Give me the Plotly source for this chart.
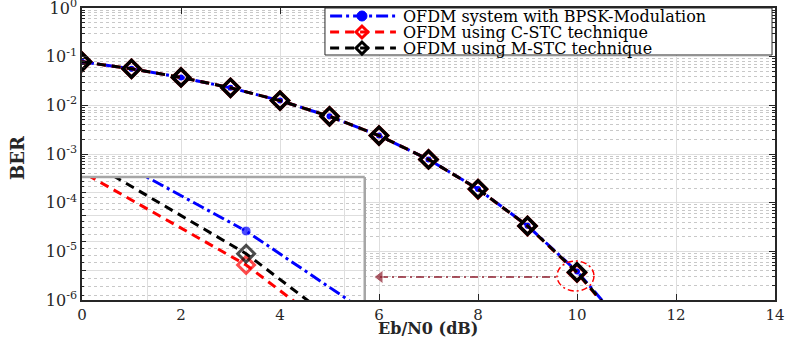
import plotly.graph_objects as go

# BER curves (Eb/N0 in dB)
ebn0 = [0, 1, 2, 3, 4, 5, 6, 7, 8, 9, 10, 11]
ber_bpsk = [0.0786, 0.0563, 0.0375, 0.0229, 0.0125, 0.00595, 0.00239,
            7.73e-4, 1.91e-4, 3.36e-5, 3.87e-6, 2.6e-7]
ber_cstc = [0.0786, 0.0563, 0.0375, 0.0229, 0.0125, 0.00595, 0.00239,
            7.73e-4, 1.89e-4, 3.32e-5, 3.65e-6, 2.3e-7]
ber_mstc = [0.0786, 0.0563, 0.0375, 0.0229, 0.0125, 0.00595, 0.00239,
            7.73e-4, 1.90e-4, 3.33e-5, 3.72e-6, 2.4e-7]

# zoomed view around 10 dB (inset)
zoom_ebn0 = [9.8, 9.9, 10.0, 10.1, 10.2]
zoom_bpsk = [6.0e-6, 4.91e-6, 3.87e-6, 2.88e-6, 2.08e-6]
zoom_cstc = [5.47e-6, 4.27e-6, 3.33e-6, 2.39e-6, 1.76e-6]
zoom_mstc = [5.85e-6, 4.52e-6, 3.50e-6, 2.51e-6, 1.86e-6]
zoom_marker = [0, 0, 1, 0, 0]  # only the 10 dB point carries a marker

# arrow pointing from the circled point to the inset
arrow_x = [6.02, 9.6]
arrow_y = [2.97e-6, 2.97e-6]

x_ticks = [0, 2, 4, 6, 8, 10, 12, 14]
y_exps = [-6, -5, -4, -3, -2, -1, 0]

FONT = "DejaVu Serif"
BLUE, RED, BLACK = "#0000ff", "#ff0000", "#000000"
MAROON = "#8c1c2c"
AXIS = "#262626"
GRID = "#dedede"
MINOR = "#c8c8c8"

W, H = 789, 338
L, R, T, B = 82, 14, 8, 38
PW, PH = W - L - R, H - T - B  # plot area in px

y_ticks = [10.0 ** e for e in y_exps]
y_ticktext = [f"10<sup>{e}</sup>" for e in y_exps]
y_minor = [k * 10.0 ** e for e in range(-6, 0) for k in range(2, 10)]

inset_major = [3.25e-6, 3.7e-6, 4.15e-6, 4.6e-6]
inset_minor = [v + k * 0.1125e-6 for v in [2.8e-6] + inset_major for k in (1, 2, 3)]

series = [
    ("OFDM system with BPSK-Modulation", ber_bpsk, zoom_bpsk, BLUE,
     "12px,4px,3px,4px", dict(symbol="circle", size=6, color=BLUE)),
    ("OFDM using C-STC technique", ber_cstc, zoom_cstc, RED,
     "9px,6px", dict(symbol="diamond-open", size=13, color=RED, line=dict(width=3.5, color=RED))),
    ("OFDM using M-STC technique", ber_mstc, zoom_mstc, BLACK,
     "9px,6px", dict(symbol="diamond-open", size=13, color=BLACK, line=dict(width=3.5, color=BLACK))),
]

fig = go.Figure()

for name, main_vals, zoom_vals, color, dash, marker in series:
    fig.add_trace(go.Scatter(
        x=ebn0, y=main_vals, mode="lines+markers", name=name, showlegend=False,
        line=dict(color=color, width=3, dash=dash),
        marker=marker,
    ))

for name, main_vals, zoom_vals, color, dash, marker in series:
    m = dict(marker)
    m["size"] = [s * (10 if marker["symbol"] == "circle" else 13) for s in zoom_marker]
    if "line" in m:
        m["line"] = dict(width=3, color=color)
    fig.add_trace(go.Scatter(
        x=zoom_ebn0, y=zoom_vals, mode="lines+markers", showlegend=False,
        line=dict(color=color, width=3, dash=dash),
        marker=m, xaxis="x2", yaxis="y2",
    ))

fig.add_trace(go.Scatter(
    x=arrow_x, y=arrow_y, mode="lines+markers", showlegend=False,
    line=dict(color=MAROON, width=1.5, dash="8px,4px,2px,4px"),
    marker=dict(symbol="triangle-left", size=[12, 0], color=MAROON),
))

# legend drawn by hand (MATLAB style box)
leg_left, leg_right, leg_top, leg_bottom = 0.3506, 0.9957, 1.0, 0.839
leg_rows = [0.9726, 0.9178, 0.863]
fig.add_shape(type="rect", xref="paper", yref="paper",
              x0=leg_left, x1=leg_right, y0=leg_bottom, y1=leg_top,
              fillcolor="white", line=dict(color=AXIS, width=1), layer="above")
for (name, _, _, color, dash, marker), row in zip(series, leg_rows):
    fig.add_shape(type="line", xref="paper", yref="paper",
                  x0=0.358, x1=0.453, y0=row, y1=row, layer="above",
                  line=dict(color=color, width=3, dash=dash))
    cx = 0.404
    if marker["symbol"] == "circle":
        rx, ry = 5 / PW, 5 / PH
        fig.add_shape(type="circle", xref="paper", yref="paper", layer="above",
                      x0=cx - rx, x1=cx + rx, y0=row - ry, y1=row + ry,
                      fillcolor=color, line=dict(color=color, width=1))
    else:
        dx, dy = 6 / PW, 6 / PH
        fig.add_shape(type="path", xref="paper", yref="paper", layer="above",
                      path=f"M {cx - dx},{row} L {cx},{row + dy} L {cx + dx},{row} L {cx},{row - dy} Z",
                      line=dict(color=color, width=3))
    fig.add_annotation(x=0.460, y=row, xref="paper", yref="paper",
                       text=name, showarrow=False, xanchor="left", yanchor="middle",
                       font=dict(family=FONT, size=16, color="#000000"))

# dash-dot circle around the 10 dB point
fig.add_shape(
    type="circle", xref="x", yref="y",
    x0=9.596, x1=10.343, y0=1.53e-6, y1=6.33e-6,
    line=dict(color=RED, width=1.5, dash="6px,3px,2px,3px"),
)
# gray top/right frame of the inset
fig.add_shape(type="line", xref="x2 domain", yref="y2 domain",
              x0=0, x1=1, y0=1, y1=1, line=dict(color="#a6a6a6", width=2.5))
fig.add_shape(type="line", xref="x2 domain", yref="y2 domain",
              x0=1, x1=1, y0=0, y1=1, line=dict(color="#a6a6a6", width=2.5))

# axis titles
fig.add_annotation(x=0.4993, y=-0.096, xref="paper", yref="paper",
                   text="<b>Eb/N0 (dB)</b>", showarrow=False,
                   xanchor="center", yanchor="middle",
                   font=dict(family=FONT, size=16, color="#262626"))
fig.add_annotation(x=-0.0924, y=0.49, xref="paper", yref="paper",
                   text="<b>BER</b>", showarrow=False, textangle=-90,
                   xanchor="center", yanchor="middle",
                   font=dict(family=FONT, size=18, color="#262626"))

fig.update_layout(
    width=W, height=H,
    margin=dict(l=L, r=R, t=T, b=B),
    paper_bgcolor="white", plot_bgcolor="white",
    font=dict(family=FONT, size=15, color="#262626"),
    showlegend=False,
    xaxis=dict(
        domain=[0, 1], range=[0, 14], tickvals=x_ticks, automargin=False,
        ticks="inside", ticklen=6, tickcolor=AXIS, ticklabeloverflow="allow",
        showline=True, linecolor=AXIS, linewidth=1.5, mirror="ticks",
        showgrid=True, gridcolor=GRID, gridwidth=1, zeroline=False,
        tickfont=dict(family=FONT, size=15, color="#262626"),
    ),
    yaxis=dict(
        domain=[0, 1], type="log", range=[-6, 0], automargin=False,
        tickvals=y_ticks, ticktext=y_ticktext, ticklabeloverflow="allow",
        ticks="inside", ticklen=6, tickcolor=AXIS,
        showline=True, linecolor=AXIS, linewidth=1.5, mirror="ticks",
        showgrid=True, gridcolor=GRID, gridwidth=1, zeroline=False,
        tickfont=dict(family=FONT, size=16, color="#262626"),
        minor=dict(tickvals=y_minor, ticks="inside", ticklen=3, tickcolor=AXIS,
                   showgrid=True, gridcolor=MINOR, griddash="dot", gridwidth=1),
    ),
    xaxis2=dict(
        domain=[0, 0.408], range=[9.834, 10.120], anchor="y2", automargin=False,
        tickvals=[9.9, 10.0, 10.1], showticklabels=False, ticks="",
        showline=True, linecolor=AXIS, linewidth=1.5,
        showgrid=True, gridcolor=GRID, zeroline=False,
    ),
    yaxis2=dict(
        domain=[0, 0.421], type="log", range=[-5.545, -5.3085], anchor="x2",
        automargin=False, tickvals=inset_major, showticklabels=False,
        ticks="inside", ticklen=4, tickcolor=AXIS,
        showline=True, linecolor=AXIS, linewidth=1.5,
        showgrid=True, gridcolor=GRID, zeroline=False,
        minor=dict(tickvals=inset_minor, ticks="inside", ticklen=2, tickcolor=AXIS,
                   showgrid=True, gridcolor=MINOR, griddash="dot"),
    ),
)

# the page body has a default 8px margin; drop it so the figure sits at the origin
fig.write_html("out.html", config={"displayModeBar": False},
               post_script="document.body.style.margin = '0';")
